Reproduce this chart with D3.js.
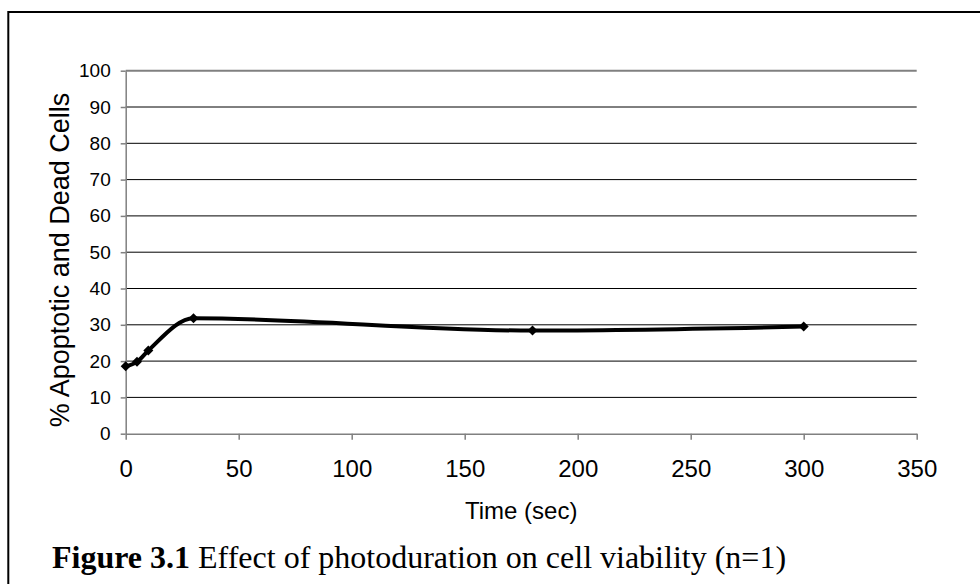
<!DOCTYPE html>
<html>
<head>
<meta charset="utf-8">
<script src="https://cdn.jsdelivr.net/npm/d3@7"></script>
<style>
  body { margin: 0; background: #fff; }
  svg { display: block; }
  text { font-family: "Liberation Sans", Arial, sans-serif; fill: #000; }
</style>
</head>
<body>
<div id="chart"></div>
<script>
// data
const timeSec = [0, 5, 10, 30, 180, 300];
const pctApoptoticDead = [18.6, 19.8, 22.9, 31.8, 28.4, 29.5];
const xTicks = [0, 50, 100, 150, 200, 250, 300, 350];
const yTicks = [0, 10, 20, 30, 40, 50, 60, 70, 80, 90, 100];

const width = 980, height = 584;

const svg = d3.select('#chart')
              .append('svg')
              .attr('width', width)
              .attr('height', height);

// outer frame (runs off the right and bottom edges like the scan)
svg.append('rect')
   .attr('x', 8.3).attr('y', 12)
   .attr('width', 1000).attr('height', 600)
   .attr('fill', 'none')
   .attr('stroke', '#000')
   .attr('stroke-width', 2);

// scales
const xScale = d3.scaleLinear().domain([0, 350]).range([125.7, 916.7]);
const yScale = d3.scaleLinear().domain([0, 100]).range([433.7, 70.7]);

// gridlines
svg.append('g')
   .selectAll('line')
   .data(yTicks.filter(d => d > 0))
   .enter()
   .append('line')
   .attr('x1', xScale(0))
   .attr('x2', xScale(350))
   .attr('y1', d => yScale(d))
   .attr('y2', d => yScale(d))
   .attr('stroke', d => d === 100 ? '#808080' : '#000')
   .attr('stroke-width', d => d === 100 ? 2 : 1);

// axes
const xAxis = svg.append('g')
   .attr('transform', `translate(0,${yScale(0)})`)
   .call(d3.axisBottom(xScale).tickValues(xTicks).tickSize(6).tickSizeOuter(0).tickPadding(20));
const yAxis = svg.append('g')
   .attr('transform', `translate(${xScale(0)},0)`)
   .call(d3.axisLeft(yScale).tickValues(yTicks).tickSize(5).tickSizeOuter(0).tickPadding(10));

[xAxis, yAxis].forEach(a => {
  a.selectAll('path, line').attr('stroke', '#808080').attr('stroke-width', 1.5);
  a.selectAll('text').style('font-family', '"Liberation Sans", Arial, sans-serif').attr('fill', '#000');
});
xAxis.selectAll('text').style('font-size', '24px');
yAxis.selectAll('text').style('font-size', '19px');

// series
const points = timeSec.map((t, i) => ({ x: t, y: pctApoptoticDead[i] }));

const line = d3.line()
   .x(d => xScale(d.x))
   .y(d => yScale(d.y))
   .curve(d3.curveMonotoneX);

svg.append('path')
   .datum(points)
   .attr('d', line)
   .attr('fill', 'none')
   .attr('stroke', '#000')
   .attr('stroke-width', 4)
   .attr('stroke-linejoin', 'round');

svg.append('g')
   .selectAll('path')
   .data(points)
   .enter()
   .append('path')
   .attr('d', d3.symbol().type(d3.symbolSquare).size(50))
   .attr('transform', d => `translate(${xScale(d.x)},${yScale(d.y)}) rotate(45)`)
   .attr('fill', '#000');

// axis titles
svg.append('text')
   .attr('transform', 'translate(69,260) rotate(-90)')
   .attr('text-anchor', 'middle')
   .style('font-size', '27px')
   .text('% Apoptotic and Dead Cells');

svg.append('text')
   .attr('x', (xScale(0) + xScale(350)) / 2)
   .attr('y', 519)
   .attr('text-anchor', 'middle')
   .style('font-size', '24px')
   .text('Time (sec)');

// caption
const caption = svg.append('text')
   .attr('x', 52)
   .attr('y', 568)
   .style('font-family', '"Liberation Serif", "Times New Roman", serif')
   .style('font-size', '32px');
caption.append('tspan').style('font-weight', 'bold').text('Figure 3.1');
caption.append('tspan').text(' Effect of photoduration on cell viability (n=1)');
</script>
</body>
</html>
